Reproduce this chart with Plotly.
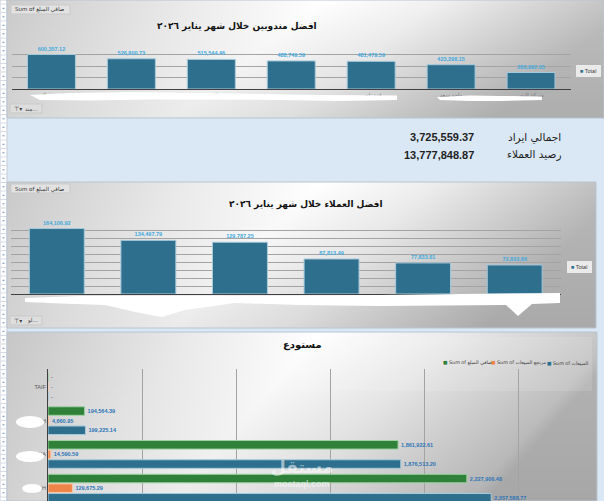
import base64
import plotly.graph_objects as go

# ---------------- data ----------------
reps = ["احمد سالم", "محمد علي", "خالد عمر", "سعيد حسن", "فهد ناصر", "ماجد سعد", "شركة النور"]
rep_totals = [600357.12, 526800.73, 515544.46, 488749.59, 481479.59, 423298.15, 286992.05]

customers = ["مؤسسة الامل", "شركة البناء", "مؤسسة الريم", "مؤسسة الفجر", "شركة الوادي", "مؤسسة السلام"]
cust_totals = [164106.92, 134497.79, 129787.25, 87813.49, 77833.81, 72803.86]

warehouses = ["TAIF", "AL LITH", "MADINA", "JEDDAH"]
net_amount = [0, 194564.39, 1861922.61, 2227906.48]
sales_returns = [0, 4660.95, 14590.59, 129675.29]
sales = [0, 199225.14, 1876513.20, 2357588.77]

total_revenue = 3725559.37
customer_balance = 13777848.87

title1 = "افضل مندوبين خلال شهر يناير ٢٠٢٦"
title2 = "افضل العملاء خلال شهر يناير ٢٠٢٦"
title3 = "مستودع"

# ---------------- helpers ----------------
W, H = 604, 501
def px(x): return x / W
def py(y): return 1 - y / H

def fmt(v):
    return "-" if v == 0 else f"{v:,.2f}"

def grad_img(x0, y0, x1, y1, stops, shade=0.08):
    w, h = x1 - x0, y1 - y0
    st = "".join(f"<stop offset='{o}' stop-color='{c}'/>" for o, c in stops)
    svg = (f"<svg xmlns='http://www.w3.org/2000/svg' width='{w}' height='{h}' viewBox='0 0 {w} {h}' preserveAspectRatio='none'>"
           f"<defs><linearGradient id='g' x1='0' y1='0' x2='1' y2='0.25'>{st}</linearGradient>"
           f"<linearGradient id='v' x1='0' y1='0' x2='0' y2='1'><stop offset='0' stop-color='#000' stop-opacity='0'/>"
           f"<stop offset='1' stop-color='#000' stop-opacity='{shade}'/></linearGradient></defs>"
           f"<rect width='{w}' height='{h}' fill='url(#g)'/><rect width='{w}' height='{h}' fill='url(#v)'/></svg>")
    src = "data:image/svg+xml;base64," + base64.b64encode(svg.encode()).decode()
    return dict(source=src, xref="paper", yref="paper", x=px(x0), y=py(y0),
                sizex=(x1 - x0) / W, sizey=(y1 - y0) / H, sizing="stretch",
                xanchor="left", yanchor="top", layer="below")

def rect(x0, y0, x1, y1, fill, line=None, lw=1, layer="below"):
    return dict(type="rect", xref="paper", yref="paper", x0=px(x0), x1=px(x1), y0=py(y1), y1=py(y0),
                fillcolor=fill, line=dict(color=line or "rgba(0,0,0,0)", width=lw if line else 0), layer=layer)

def poly(points, fill="white"):
    d = "M " + " L ".join(f"{px(x):.5f},{py(y):.5f}" for x, y in points) + " Z"
    return dict(type="path", xref="paper", yref="paper", path=d, fillcolor=fill,
                line=dict(width=0, color=fill), layer="above")

def ell(x0, y0, x1, y1, fill="white"):
    return dict(type="circle", xref="paper", yref="paper", x0=px(x0), x1=px(x1), y0=py(y1), y1=py(y0),
                fillcolor=fill, line=dict(width=0, color=fill), layer="above")

BAR = "#2e6f8e"
LBL = "#45a9dc"
FNUM = "Liberation Sans, DejaVu Sans, sans-serif"
FAR = "DejaVu Sans, Liberation Sans, sans-serif"

fig = go.Figure()

# panel 1 bars
fig.add_trace(go.Bar(x=reps, y=rep_totals, xaxis="x", yaxis="y", width=0.6,
                     marker=dict(color=BAR, line=dict(color="#a8cadb", width=1)),
                     text=[fmt(v) for v in rep_totals], textposition="outside", cliponaxis=False,
                     constraintext="none",
                     textfont=dict(family=FNUM, size=5.5, color=LBL, weight="bold"),
                     showlegend=False, name="Total"))
# panel 2 bars
fig.add_trace(go.Bar(x=customers, y=cust_totals, xaxis="x2", yaxis="y2", width=0.6,
                     marker=dict(color=BAR, line=dict(color="#a8cadb", width=1)),
                     text=[fmt(v) for v in cust_totals], textposition="outside", cliponaxis=False,
                     constraintext="none",
                     textfont=dict(family=FNUM, size=5.5, color=LBL, weight="bold"),
                     showlegend=False, name="Total"))
# panel 3 grouped horizontal bars
for name, vals, col, edge in [("Sum of صافي المبلغ", net_amount, "#2f8038", "#9fd0a4"),
                              ("Sum of مرتجع المبيعات", sales_returns, "#ee8447", "#f7c7a8"),
                              ("Sum of المبيعات", sales, BAR, "#a8cadb")]:
    fig.add_trace(go.Bar(y=warehouses, x=vals, orientation="h", xaxis="x3", yaxis="y3",
                         marker=dict(color=col, line=dict(color=edge, width=1)),
                         text=[fmt(v) for v in vals], textposition="outside", cliponaxis=True,
                         constraintext="none",
                         textfont=dict(family=FNUM, size=5.5,
                                       color=["#7f7f7f" if v == 0 else "#2e75b6" for v in vals],
                                       weight="bold"),
                         showlegend=False, name=name))

images = [
    grad_img(7, 0, 604, 118, [(0, "#cacaca"), (0.3, "#ececec"), (0.5, "#ffffff"), (0.68, "#f1f1f1"), (1, "#bdbdbd")]),
    grad_img(7, 182, 596, 328, [(0, "#c9c9c9"), (0.3, "#ececec"), (0.5, "#ffffff"), (0.68, "#eeeeee"), (1, "#b8b8b8")]),
    grad_img(7, 332, 597, 501, [(0, "#c6c6c6"), (0.3, "#ebebeb"), (0.5, "#ffffff"), (0.7, "#ececec"), (0.97, "#c4c4c4"), (1, "#b5b5b5")]),
]

shapes = []
# left row-header strip
shapes.append(rect(0, 0, 7, 501, "#ffffff", "#c5cdd8", 1))
for i in range(60):
    yy = 4 + i * 8.5
    shapes.append(dict(type="line", xref="paper", yref="paper", x0=px(0), x1=px(7), y0=py(yy), y1=py(yy),
                       line=dict(color="#d5dbe5", width=1), layer="below"))
    shapes.append(dict(type="line", xref="paper", yref="paper", x0=px(2.5), x1=px(4.5), y0=py(yy + 4.3), y1=py(yy + 4.3),
                       line=dict(color="#6f8fb8", width=1), layer="below"))
# panel frames
shapes.append(rect(7, 0, 604, 118, "rgba(0,0,0,0)", "#b9c4d0", 1))
shapes.append(rect(7, 182, 596, 328, "rgba(0,0,0,0)", "#b9c4d0", 1))
shapes.append(rect(7, 332, 597, 501, "rgba(0,0,0,0)", "#b9c4d0", 1))
# legend area panel 3 (subtle)
shapes.append(rect(300, 337, 592, 391, "rgba(255,255,255,0.12)"))
# buttons
for yb in (5, 184):
    shapes.append(rect(11, yb, 70, yb + 9, "#e2e2e2", "#c9c9c9", 1))
for yb in (104, 316):
    shapes.append(rect(10, yb, 42, yb + 9, "#dedede", "#c9c9c9", 1))
# Total legend boxes
shapes.append(rect(576, 65, 601, 77, "#eaeaea"))
shapes.append(rect(567, 261, 592, 273, "#eaeaea"))

# white smudges over labels
shapes.append(poly([(30, 95), (70, 93), (130, 92), (200, 93), (260, 94), (320, 95), (397, 95.5),
                    (397, 100), (340, 101), (280, 100), (210, 99.5), (150, 99.5), (90, 100.5), (40, 100)]))
shapes.append(poly([(437, 97), (470, 95.5), (500, 96), (542, 96.5), (542, 100), (500, 101), (470, 101), (440, 100)]))
shapes.append(poly([(25, 298), (80, 296), (150, 296), (230, 296), (300, 295.5), (380, 295), (460, 294), (560, 293),
                    (560, 303), (532, 304), (518, 316), (506, 305), (440, 305.5), (380, 306), (300, 305),
                    (235, 303), (185, 310), (162, 317), (135, 312), (105, 305), (60, 303.5), (25, 302)]))
shapes.append(ell(16, 416, 44, 428))
shapes.append(ell(16, 451, 44, 462))
shapes.append(ell(22, 484, 42, 493))

ann = []
def A(x, y, text, size, color="#1a1a1a", xanchor="center", family=FAR, weight="normal", **kw):
    ann.append(dict(x=px(x), y=py(y), xref="paper", yref="paper", text=text, showarrow=False,
                    xanchor=xanchor, yanchor="middle",
                    font=dict(family=family, size=size, color=color, weight=weight), **kw))

A(237, 26, title1, 9, "#111", weight="bold")
A(305, 204, title2, 9, "#111", weight="bold")
A(302, 345, title3, 10, "#111", weight="bold")

A(13, 10, "Sum of صافي المبلغ", 5.5, "#333", xanchor="left")
A(13, 189, "Sum of صافي المبلغ", 5.5, "#333", xanchor="left")
A(12, 108.5, "⊤▾", 6, "#444", xanchor="left")
A(40, 108.5, "مند...", 5.5, "#444", xanchor="right")
A(12, 320.5, "⊤▾", 6, "#444", xanchor="left")
A(40, 320.5, "لو...", 5.5, "#444", xanchor="right")

A(578, 71, f"<span style='color:{BAR}'>■</span> Total", 5.5, "#404040", xanchor="left", family=FNUM)
A(569, 267, f"<span style='color:{BAR}'>■</span> Total", 5.5, "#404040", xanchor="left", family=FNUM)

A(494, 363, "<span style='color:#2f8038'>■</span> Sum of صافي المبلغ", 4.8, "#404040", xanchor="right")
A(548, 363, "<span style='color:#ee8447'>■</span> Sum of مرتجع المبيعات", 4.8, "#404040", xanchor="right")
A(590, 363, f"<span style='color:{BAR}'>■</span> Sum of المبيعات", 4.8, "#404040", xanchor="right")

A(476, 137, f"{total_revenue:,.2f}", 11, "#1f1f1f", xanchor="right", family=FNUM, weight="bold")
A(476, 155, f"{customer_balance:,.2f}", 11, "#1f1f1f", xanchor="right", family=FNUM, weight="bold")
A(563, 137, "اجمالي ايراد", 10.5, "#1f1f1f", xanchor="right")
A(563, 155, "رصيد العملاء", 10.5, "#1f1f1f", xanchor="right")

A(302, 467, "مستقل", 17, "rgba(255,255,255,0.55)", weight="bold")
A(302, 484, "mostaql.com", 9, "rgba(255,255,255,0.55)", family=FNUM, weight="bold")

GRID = "#a3a3a3"
fig.update_layout(
    width=W, height=H, margin=dict(l=0, r=0, t=0, b=0),
    paper_bgcolor="#dae7f5", plot_bgcolor="rgba(0,0,0,0)",
    barmode="group", bargap=0.145, bargroupgap=0.115,
    images=images, shapes=shapes, annotations=ann, showlegend=False,
    xaxis=dict(domain=[px(11.5), px(571)], anchor="y", showline=True, linecolor="#404040", linewidth=1,
               ticks="", tickfont=dict(family=FAR, size=5.5, color="#777"), fixedrange=True),
    yaxis=dict(domain=[py(89), py(43)], anchor="x", range=[0, 801000], dtick=200000, showgrid=True,
               gridcolor=GRID, gridwidth=1, showticklabels=False, zeroline=False),
    xaxis2=dict(domain=[px(11), px(560.5)], anchor="y2", showline=True, linecolor="#404040", linewidth=1,
                ticks="", tickfont=dict(family=FAR, size=5.5, color="#777")),
    yaxis2=dict(domain=[py(294), py(222)], anchor="x2", range=[0, 180500], dtick=20000, showgrid=True,
                gridcolor=GRID, gridwidth=1, showticklabels=False, zeroline=False),
    xaxis3=dict(domain=[px(48), px(580)], anchor="y3", range=[0, (580 - 48) / 188 * 1e6], dtick=500000,
                showgrid=True, gridcolor=GRID, gridwidth=1, showticklabels=False, zeroline=False, showline=False),
    yaxis3=dict(domain=[0, py(369)], anchor="x3", range=[3.38, -0.53], showline=True, linecolor="#404040",
                linewidth=1, ticks="", tickfont=dict(family=FNUM, size=5.5, color="#595959"), showgrid=False),
)

fig.write_html("out.html")
